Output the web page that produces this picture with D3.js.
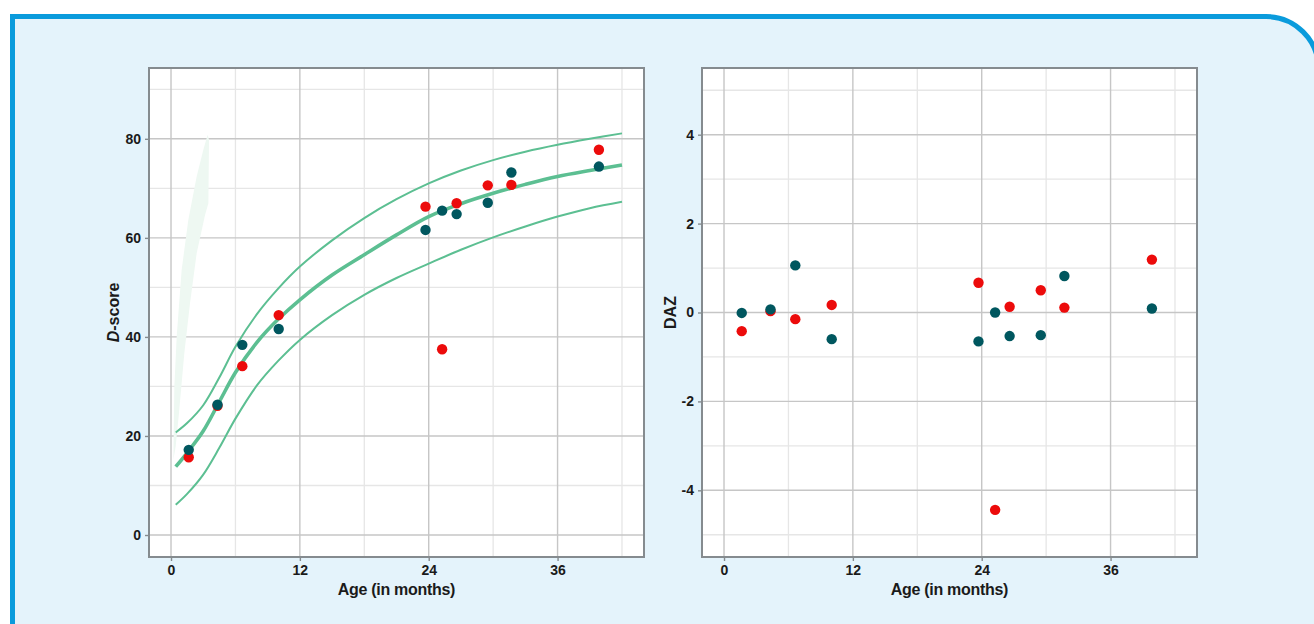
<!DOCTYPE html>
<html><head><meta charset="utf-8">
<script src="https://cdn.jsdelivr.net/npm/d3@7"></script>
<style>
html,body{margin:0;padding:0;background:#fff;}
svg{display:block;}
text{font-family:"Liberation Sans",Arial,Helvetica,sans-serif;font-weight:bold;fill:#1a1a1a;}
</style></head>
<body>
<svg id="c" width="1314" height="624"></svg>
<script>
// ---- data ----
const visitAge = [1.65, 4.33, 6.64, 10.03, 23.7, 25.25, 26.6, 29.5, 31.7, 39.85];
const dscoreRed = [15.7, 26.1, 34.1, 44.4, 66.3, 37.5, 67.0, 70.6, 70.7, 77.8];
const dscoreTeal = [17.2, 26.3, 38.4, 41.6, 61.6, 65.5, 64.8, 67.1, 73.2, 74.4];
const dazRed = [-0.42, 0.03, -0.15, 0.17, 0.67, -4.44, 0.13, 0.5, 0.11, 1.19];
const dazTeal = [-0.01, 0.07, 1.06, -0.6, -0.65, 0.0, -0.53, -0.51, 0.82, 0.09];

const refAge = [0.44, 1.5, 3, 4.5, 6, 8, 10, 12, 15, 18, 21, 24, 27, 30, 33, 36, 39, 42];
const refMedian = [13.8, 16.6, 21.0, 26.9, 32.8, 38.9, 43.6, 47.5, 52.5, 56.6, 60.6, 64.3, 66.9, 69.0, 70.8, 72.4, 73.6, 74.7];
const refUpper = [20.7, 22.6, 26.2, 31.8, 38.0, 44.6, 49.8, 54.2, 59.5, 64.0, 67.8, 71.0, 73.6, 75.7, 77.4, 78.8, 80.0, 81.1];
const refLower = [6.1, 8.3, 12.2, 17.6, 23.5, 30.2, 35.2, 39.4, 44.4, 48.5, 51.9, 54.8, 57.6, 60.1, 62.3, 64.3, 66.0, 67.3];

const shadeAge = [0.22, 0.31, 0.53, 0.99, 1.61, 2.39, 3.01, 3.41, 3.54, 3.48, 3.17, 2.39, 1.77, 1.24, 0.74, 0.43];
const shadeD   = [15.2, 30.0, 40.1, 53.5, 63.6, 72.4, 77.8, 80.8, 79.8, 67.0, 64.6, 56.9, 46.8, 36.7, 24.6, 17.8];

const xTicks = [0, 12, 24, 36];
const xMinor = [6, 18, 30, 42];
const yTicksL = [0, 20, 40, 60, 80];
const yMinorL = [10, 30, 50, 70, 90];
const yTicksR = [-4, -2, 0, 2, 4];
const yMinorR = [-5, -3, -1, 1, 3, 5];

const xTitle = "Age (in months)";
const COL_RED = "#ec0b0b", COL_TEAL = "#00575f", COL_REF = "#5cbf92";

const svg = d3.select("#c");

// ---- card background ----
const cp = d3.path();
cp.moveTo(12.5, 700);
cp.lineTo(12.5, 16.5);
cp.lineTo(1266, 16.5);
cp.arcTo(1318.5, 16.5, 1318.5, 69, 52.5);
cp.lineTo(1318.5, 700);
svg.append("path").attr("d", cp.toString()).attr("fill", "#e4f3fb")
  .attr("stroke", "#0a9bdc").attr("stroke-width", 5);

function panel(x0, x1, yDomain, yTicks, yMinor, yTitleNodes, titleX, draw) {
  const top = 68, bottom = 557;
  const x = d3.scaleLinear().domain([-2.05, 44.05]).range([x0, x1]);
  const y = d3.scaleLinear().domain(yDomain).range([bottom, top]);
  const g = svg.append("g");
  g.append("rect").attr("x", x0).attr("y", top).attr("width", x1 - x0).attr("height", bottom - top).attr("fill", "#fff");
  // minor grid
  g.selectAll(".mx").data(xMinor).join("line").attr("x1", d => x(d)).attr("x2", d => x(d))
    .attr("y1", top).attr("y2", bottom).attr("stroke", "#e6e6e6").attr("stroke-width", 1.3);
  g.selectAll(".my").data(yMinor).join("line").attr("y1", d => y(d)).attr("y2", d => y(d))
    .attr("x1", x0).attr("x2", x1).attr("stroke", "#e6e6e6").attr("stroke-width", 1.3);
  // major grid
  g.selectAll(".Mx").data(xTicks).join("line").attr("x1", d => x(d)).attr("x2", d => x(d))
    .attr("y1", top).attr("y2", bottom).attr("stroke", "#c6c6c6").attr("stroke-width", 1.4);
  g.selectAll(".My").data(yTicks).join("line").attr("y1", d => y(d)).attr("y2", d => y(d))
    .attr("x1", x0).attr("x2", x1).attr("stroke", "#c6c6c6").attr("stroke-width", 1.4);

  draw(g, x, y);

  // frame
  g.append("rect").attr("x", x0).attr("y", top).attr("width", x1 - x0).attr("height", bottom - top)
    .attr("fill", "none").attr("stroke", "#858b8f").attr("stroke-width", 2);

  // axes
  const fmt = d => String(d);
  const ax = g.append("g").attr("transform", `translate(0,${bottom})`)
    .call(d3.axisBottom(x).tickValues(xTicks).tickFormat(fmt).tickSize(4).tickPadding(4));
  const ay = g.append("g").attr("transform", `translate(${x0},0)`)
    .call(d3.axisLeft(y).tickValues(yTicks).tickFormat(fmt).tickSize(4).tickPadding(4));
  [ax, ay].forEach(a => {
    a.select(".domain").remove();
    a.selectAll(".tick line").attr("stroke", "#858b8f").attr("stroke-width", 1.4);
    a.selectAll(".tick text").attr("font-size", 14).attr("font-family", null).attr("fill", "#1a1a1a");
  });
  g.append("text").attr("x", (x0 + x1) / 2).attr("y", 595).attr("text-anchor", "middle")
    .attr("font-size", 16).attr("letter-spacing", -0.3).text(xTitle);
  const yt = g.append("text").attr("transform", `translate(${titleX},${(top + bottom) / 2}) rotate(-90)`)
    .attr("text-anchor", "middle").attr("font-size", 16);
  yTitleNodes(yt);
}

function dots(g, x, y, ys, col) {
  g.append("g").selectAll("circle").data(visitAge.map((a, i) => [a, ys[i]])).join("circle")
    .attr("cx", d => x(d[0])).attr("cy", d => y(d[1])).attr("r", 5.2).attr("fill", col);
}

panel(149, 644, [-4.44, 94.3], yTicksL, yMinorL,
  t => { t.append("tspan").attr("font-style", "italic").text("D"); t.append("tspan").text("-score"); },
  119,
  (g, x, y) => {
    g.append("path").datum(shadeAge.map((a, i) => [a, shadeD[i]]))
      .attr("d", d3.line().x(d => x(d[0])).y(d => y(d[1])).curve(d3.curveLinearClosed))
      .attr("fill", "#eef8f2").attr("stroke", "none");
    const line = d3.line().x(d => x(d[0])).y(d => y(d[1])).curve(d3.curveCatmullRom);
    [[refUpper, 2], [refLower, 2], [refMedian, 3.6]].forEach(([arr, w]) => {
      g.append("path").datum(refAge.map((a, i) => [a, arr[i]])).attr("d", line)
        .attr("fill", "none").attr("stroke", COL_REF).attr("stroke-width", w);
    });
    dots(g, x, y, dscoreRed, COL_RED);
    dots(g, x, y, dscoreTeal, COL_TEAL);
  });

panel(702, 1197, [-5.5, 5.5], yTicksR, yMinorR,
  t => { t.text("DAZ"); },
  676,
  (g, x, y) => {
    dots(g, x, y, dazRed, COL_RED);
    dots(g, x, y, dazTeal, COL_TEAL);
  });
</script>
</body></html>
